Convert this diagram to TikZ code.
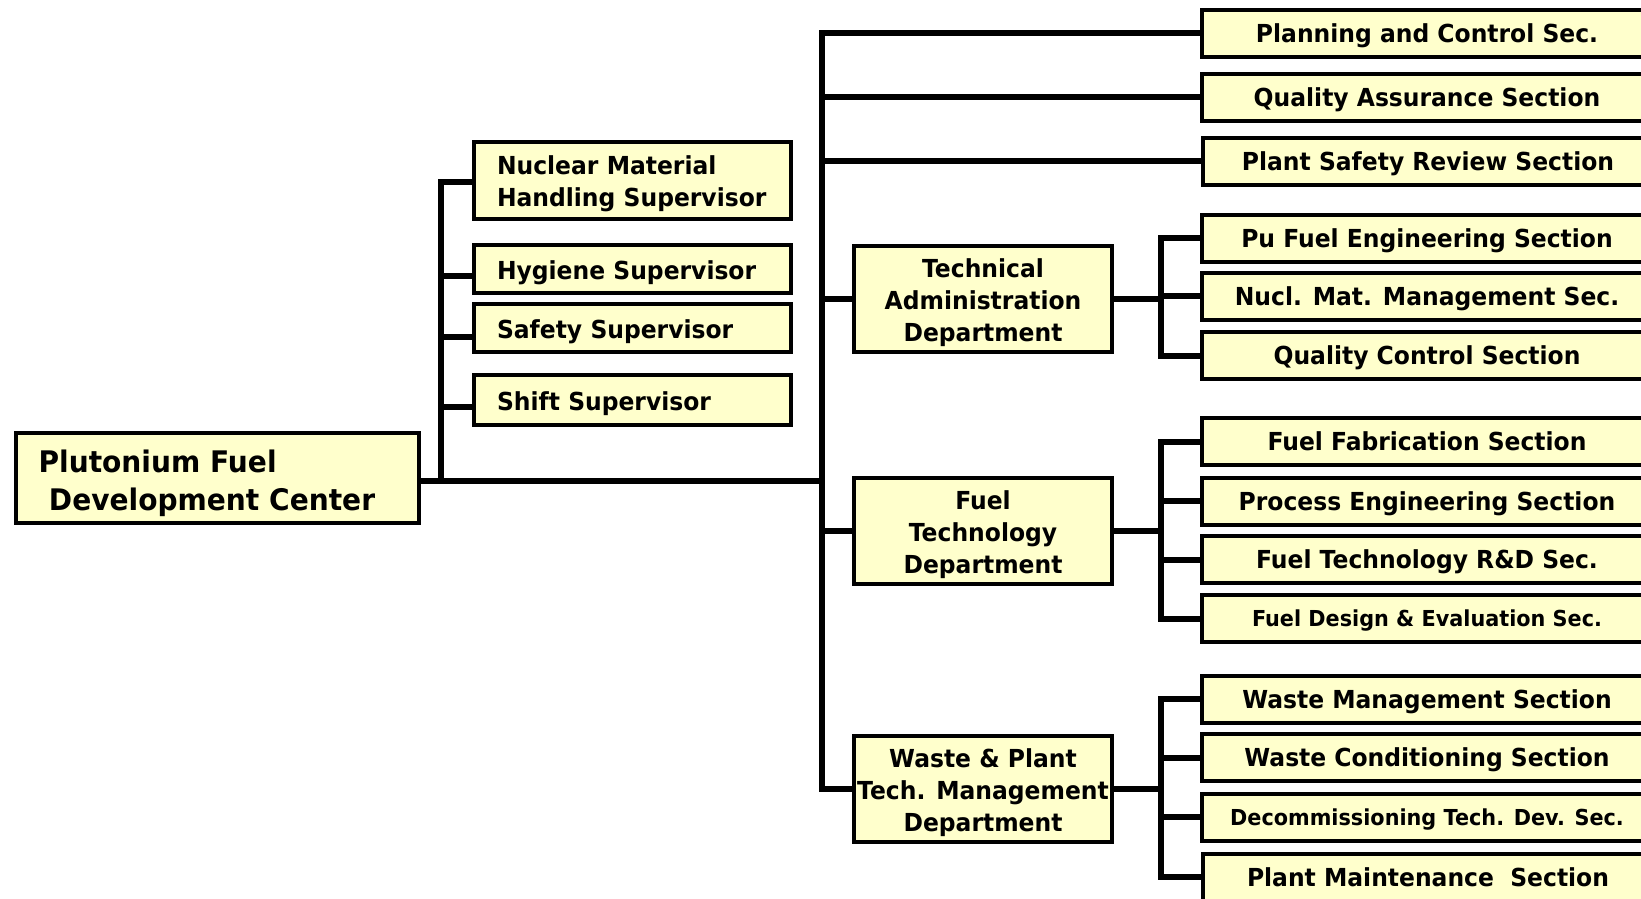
\documentclass[tikz,border=0pt]{standalone}
\usepackage{fontspec}
\setmainfont{DejaVu Sans}[FakeStretch=0.945]
\usepackage{xcolor}
\usetikzlibrary{calc}
\definecolor{boxYellow}{HTML}{FFFFCC}
% raise the first line of a box so its text sits lower
\newcommand{\pushdown}[1]{\vrule height\dimexpr 0.76em+#1\relax width 0pt}

\begin{document}
\begin{tikzpicture}[x=1pt,y=-1pt,
  font=\bfseries\fontsize{24.8}{32}\selectfont,
  box/.style={draw,line width=4pt,fill=boxYellow,inner sep=0pt},
  sec/.style={box,anchor=west,minimum width=450,minimum height=47,text height=18pt,text depth=0pt},
  smallsec/.style={sec,text height=16pt,font=\bfseries\fontsize{22}{26}\selectfont},
  dept/.style={box,minimum width=258,minimum height=106,align=center},
  sup/.style={box,anchor=west,minimum width=317,text width=271,inner xsep=23,align=left},
  link/.style={line width=6pt,line cap=rect}]
\clip (0,0) rectangle (1641,898);
% root
\node[box,anchor=west,minimum width=403,text width=357,inner xsep=23,minimum height=90,align=left,
  font=\bfseries\fontsize{29.7}{38.7}\selectfont] (root) at (13.6,478.3)
  {\pushdown{10pt}Plutonium Fuel\\\hspace*{0.35em}Development Center};
% supervisors
\node[sup,minimum height=77] (nmh) at (472,180) {\pushdown{7pt}Nuclear Material\\Handling Supervisor};
\node[sup,minimum height=48] (hyg) at (472,268.8) {\pushdown{7pt}Hygiene Supervisor};
\node[sup,minimum height=48] (saf) at (472,328) {\pushdown{7pt}Safety Supervisor};
\node[sup,minimum height=50] (shf) at (472,400) {\pushdown{7pt}Shift Supervisor};
% departments
\node[dept] (tad) at (983,298.6) {\pushdown{8pt}Technical\\Administration\\Department};
\node[dept] (ftd) at (983,530.6) {\pushdown{8pt}Fuel\\Technology\\Department};
\node[dept] (wpd) at (983,789.1) {\pushdown{8pt}Waste \& Plant\\Tech. Management\\Department};
% sections
\node[sec] (pcs) at (1200,33) {Planning and Control Sec.};
\node[sec] (qas) at (1200,97.3) {Quality Assurance Section};
\node[sec] (psr) at (1201,161.2) {Plant Safety Review Section};
\node[sec] (pfe) at (1200,238.4) {Pu Fuel Engineering Section};
\node[sec] (nmm) at (1200,296.2) {Nucl. Mat. Management Sec.};
\node[sec] (qcs) at (1200,355.8) {Quality Control Section};
\node[sec] (ffs) at (1200,441.7) {Fuel Fabrication Section};
\node[sec] (pes) at (1200,501.3) {Process Engineering Section};
\node[sec] (ftr) at (1200,559.9) {Fuel Technology R\&D Sec.};
\node[smallsec] (fde) at (1200,618.5) {Fuel Design \& Evaluation Sec.};
\node[sec] (wms) at (1200,699.1) {Waste Management Section};
\node[sec] (wcs) at (1200,757.7) {Waste Conditioning Section};
\node[smallsec] (dtd) at (1200,817.4) {Decommissioning Tech. Dev. Sec.};
\node[sec] (pms) at (1201,877.1) {Plant Maintenance~\ Section};
% buses
\coordinate (supBus) at (440.6,0);
\coordinate (mainBus) at (821.6,0);
\coordinate (secBus) at (1161,0);
% root to supervisors and main bus
\draw[link] ([yshift=-3pt]root.east) -- ([yshift=-3pt]root.east -| mainBus);
\draw[link] ([yshift=-2pt]nmh.west -| supBus) -- ([yshift=-3pt]root.east -| supBus);
\draw[link] ([yshift=-2pt]nmh.west) -- ([yshift=-2pt]nmh.west -| supBus);
\draw[link] ([yshift=-7pt]hyg.west) -- ([yshift=-7pt]hyg.west -| supBus);
\draw[link] ([yshift=-9pt]saf.west) -- ([yshift=-9pt]saf.west -| supBus);
\draw[link] ([yshift=-7pt]shf.west) -- ([yshift=-7pt]shf.west -| supBus);
% main bus
\draw[link] (pcs.west -| mainBus) -- (wpd.west -| mainBus);
\foreach \n in {pcs,qas,psr,tad,ftd,wpd}
  \draw[link] (\n.west) -- (\n.west -| mainBus);
% department buses
\draw[link] (pfe.west -| secBus) -- (qcs.west -| secBus);
\draw[link] (ffs.west -| secBus) -- (fde.west -| secBus);
\draw[link] (wms.west -| secBus) -- (pms.west -| secBus);
\foreach \d in {tad,ftd,wpd}
  \draw[link] (\d.east) -- (\d.east -| secBus);
\foreach \n in {pfe,nmm,qcs,ffs,pes,ftr,fde,wms,wcs,dtd,pms}
  \draw[link] (\n.west) -- (\n.west -| secBus);
\end{tikzpicture}
\end{document}
